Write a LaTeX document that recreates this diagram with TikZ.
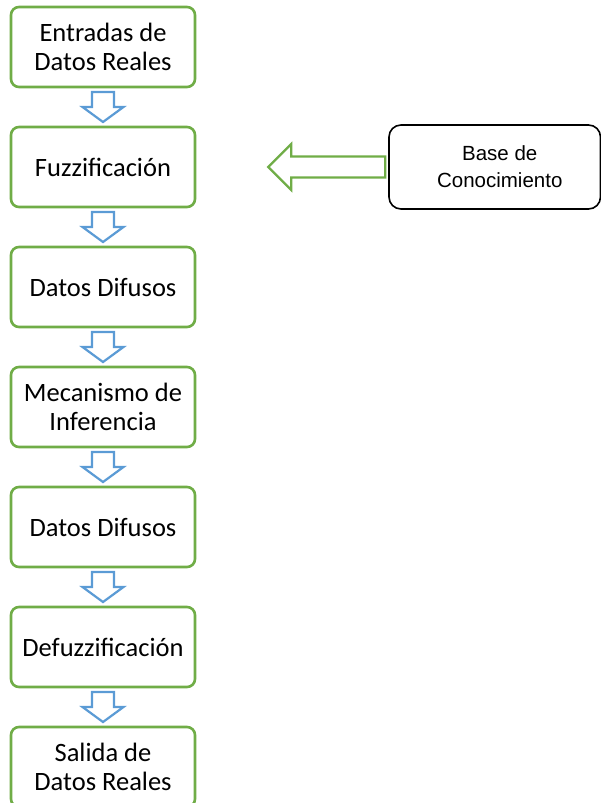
\documentclass[tikz,border=0pt]{standalone}
\usepackage{fontspec}
\setmainfont{Carlito}
\newfontfamily\arialf{Liberation Sans}
\usetikzlibrary{calc}
\definecolor{boxgreen}{RGB}{112,173,71}
\definecolor{arrblue}{RGB}{91,155,213}
\tikzset{
  stepbox/.style={draw=boxgreen, line width=2.6pt, rounded corners=8pt, fill=white,
    minimum width=184pt, minimum height=80pt, inner sep=0pt, align=center,
    font=\fontsize{26.5}{29}\selectfont},
  kbbox/.style={draw=black, line width=1.6pt, rounded corners=12pt, fill=white,
    minimum width=211.5pt, minimum height=84pt, inner sep=0pt},
  kbtext/.style={inner sep=0pt, align=center, font=\arialf\fontsize{20.5}{27}\selectfont},
  pics/downarrow/.style={code={
    \draw[arrblue, line width=2.2pt, line join=miter]
      (-11,15) -- (-11,0) -- (-20.5,0) -- (0,-15) -- (20.5,0) -- (11,0) -- (11,15) -- cycle;
  }},
}
\begin{document}
\begin{tikzpicture}[x=1pt,y=1pt]
\useasboundingbox (0,0) rectangle (601,-803);
\node[stepbox] (b1) at (103,-47) {Entradas de\\Datos Reales};
\node[stepbox] (b2) at (103,-167) {Fuzzificación};
\node[stepbox] (b3) at (103,-287) {Datos Difusos};
\node[stepbox] (b4) at (103,-407) {Mecanismo de\\Inferencia};
\node[stepbox] (b5) at (103,-527) {Datos Difusos};
\node[stepbox] (b6) at (103,-647) {Defuzzificación};
\node[stepbox] (b7) at (103,-767) {Salida de\\Datos Reales};
\foreach \a/\b in {b1/b2,b2/b3,b3/b4,b4/b5,b5/b6,b6/b7}{
  \pic at ($(\a.south)!0.5!(\b.north)$) {downarrow};
}
\node[kbbox] (kb) at (494.75,-167) {};
\node[kbtext] (kbt) at ($(kb.center)+(5,0)$) {Base de\\Conocimiento};
\coordinate (ga) at ($(kb.west)+(-3,0)$);
\draw[boxgreen, line width=2.2pt, line join=miter]
  (ga) -- ++(0,10.5) -- ($(ga)+(-94,10.5)$) -- ($(ga)+(-94,23)$) -- ($(ga)+(-117,0)$)
  -- ($(ga)+(-94,-23)$) -- ($(ga)+(-94,-10.5)$) -- ($(ga)+(0,-10.5)$) -- cycle;
\end{tikzpicture}
\end{document}
